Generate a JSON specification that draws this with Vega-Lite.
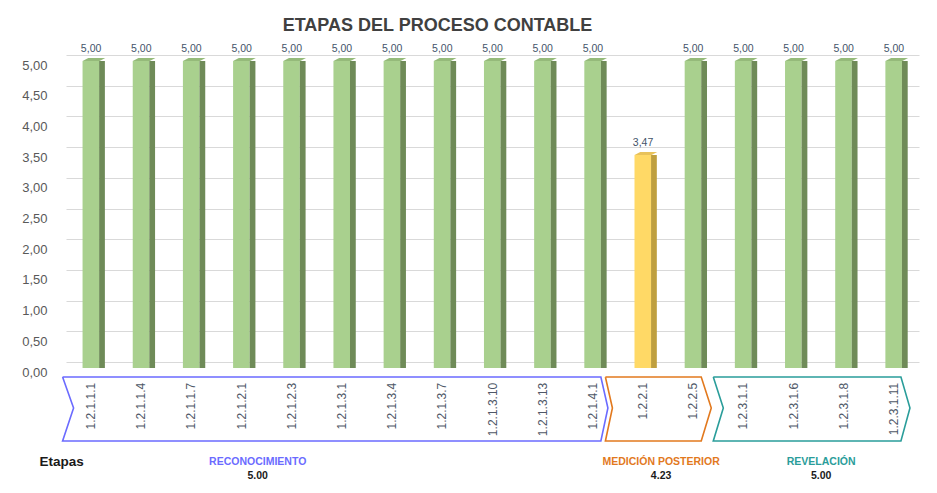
{
  "$schema": "https://vega.github.io/schema/vega-lite/v6.json",
  "width": 853,
  "height": 307,
  "autosize": "none",
  "padding": {"left": 66, "top": 61, "right": 18, "bottom": 125},
  "background": "white",
  "config": {
    "view": {"stroke": null},
    "font": "Liberation Sans",
    "axisY": {
      "tickCount": 10,
      "labelExpr": "replace(format(datum.value, '.2f'), '.', ',')",
      "labelOverlap": false,
      "domain": false, "ticks": false,
      "labelPadding": 19, "labelFontSize": 13, "labelColor": "#595959",
      "grid": true, "gridColor": "#D9D9D9", "gridWidth": 1,
      "tickOffset": -6, "labelOffset": 10
    }
  },
  "title": {"text": "ETAPAS DEL PROCESO CONTABLE", "fontSize": 18, "fontWeight": "bold", "color": "#404040", "dx": -55, "offset": 9, "anchor": "middle"},
  "datasets": {
    "barras": [
      {"cat": "1.2.1.1.1", "v": 5.00, "grupo": "RECONOCIMIENTO"},
      {"cat": "1.2.1.1.4", "v": 5.00, "grupo": "RECONOCIMIENTO"},
      {"cat": "1.2.1.1.7", "v": 5.00, "grupo": "RECONOCIMIENTO"},
      {"cat": "1.2.1.2.1", "v": 5.00, "grupo": "RECONOCIMIENTO"},
      {"cat": "1.2.1.2.3", "v": 5.00, "grupo": "RECONOCIMIENTO"},
      {"cat": "1.2.1.3.1", "v": 5.00, "grupo": "RECONOCIMIENTO"},
      {"cat": "1.2.1.3.4", "v": 5.00, "grupo": "RECONOCIMIENTO"},
      {"cat": "1.2.1.3.7", "v": 5.00, "grupo": "RECONOCIMIENTO"},
      {"cat": "1.2.1.3.10", "v": 5.00, "grupo": "RECONOCIMIENTO"},
      {"cat": "1.2.1.3.13", "v": 5.00, "grupo": "RECONOCIMIENTO"},
      {"cat": "1.2.1.4.1", "v": 5.00, "grupo": "RECONOCIMIENTO"},
      {"cat": "1.2.2.1", "v": 3.47, "grupo": "MEDICIÓN POSTERIOR"},
      {"cat": "1.2.2.5", "v": 5.00, "grupo": "MEDICIÓN POSTERIOR"},
      {"cat": "1.2.3.1.1", "v": 5.00, "grupo": "REVELACIÓN"},
      {"cat": "1.2.3.1.6", "v": 5.00, "grupo": "REVELACIÓN"},
      {"cat": "1.2.3.1.8", "v": 5.00, "grupo": "REVELACIÓN"},
      {"cat": "1.2.3.1.11", "v": 5.00, "grupo": "REVELACIÓN"}
    ],
    "chevrones": [
      {"grupo": "RECONOCIMIENTO", "o": 0, "px": -0.568, "py": -0.147},
      {"grupo": "RECONOCIMIENTO", "o": 1, "px": 10.16, "py": -0.147},
      {"grupo": "RECONOCIMIENTO", "o": 2, "px": 10.30, "py": -0.651},
      {"grupo": "RECONOCIMIENTO", "o": 3, "px": 10.16, "py": -1.189},
      {"grupo": "RECONOCIMIENTO", "o": 4, "px": -0.568, "py": -1.189},
      {"grupo": "RECONOCIMIENTO", "o": 5, "px": -0.349, "py": -0.651},
      {"grupo": "RECONOCIMIENTO", "o": 6, "px": -0.568, "py": -0.147},
      {"grupo": "MEDICIÓN POSTERIOR", "o": 0, "px": 10.25, "py": -0.147},
      {"grupo": "MEDICIÓN POSTERIOR", "o": 1, "px": 12.16, "py": -0.147},
      {"grupo": "MEDICIÓN POSTERIOR", "o": 2, "px": 12.36, "py": -0.651},
      {"grupo": "MEDICIÓN POSTERIOR", "o": 3, "px": 12.16, "py": -1.189},
      {"grupo": "MEDICIÓN POSTERIOR", "o": 4, "px": 10.25, "py": -1.189},
      {"grupo": "MEDICIÓN POSTERIOR", "o": 5, "px": 10.39, "py": -0.651},
      {"grupo": "MEDICIÓN POSTERIOR", "o": 6, "px": 10.25, "py": -0.147},
      {"grupo": "REVELACIÓN", "o": 0, "px": 12.40, "py": -0.147},
      {"grupo": "REVELACIÓN", "o": 1, "px": 16.14, "py": -0.147},
      {"grupo": "REVELACIÓN", "o": 2, "px": 16.32, "py": -0.651},
      {"grupo": "REVELACIÓN", "o": 3, "px": 16.14, "py": -1.189},
      {"grupo": "REVELACIÓN", "o": 4, "px": 12.40, "py": -1.189},
      {"grupo": "REVELACIÓN", "o": 5, "px": 12.60, "py": -0.651},
      {"grupo": "REVELACIÓN", "o": 6, "px": 12.40, "py": -0.147}
    ],
    "grupos": [
      {"grupo": "RECONOCIMIENTO", "centro": 3.32, "prom": 5.00},
      {"grupo": "MEDICIÓN POSTERIOR", "centro": 11.36, "prom": 4.23},
      {"grupo": "REVELACIÓN", "centro": 14.55, "prom": 5.00}
    ],
    "etiqueta": [{"t": "Etapas", "pos": -1.03}]
  },
  "layer": [
    {
      "data": {"name": "barras"},
      "mark": {"type": "bar"},
      "encoding": {
        "x": {"field": "cat", "type": "nominal", "sort": null, "bandPosition": 0.33, "scale": {"paddingInner": 0, "paddingOuter": 0}, "axis": null},
        "x2": {"field": "cat", "bandPosition": 0.66},
        "y": {"field": "v", "type": "quantitative", "scale": {"domain": [0, 5], "nice": false}, "axis": {"title": null}},
        "y2": {"datum": 0},
        "color": {"condition": {"test": "datum.v < 4", "value": "#FFD966"}, "value": "#A9D08E"}
      }
    },
    {
      "data": {"name": "barras"},
      "mark": {"type": "bar"},
      "encoding": {
        "x": {"field": "cat", "type": "nominal", "sort": null, "bandPosition": 0.66, "scale": {"paddingInner": 0, "paddingOuter": 0}, "axis": null},
        "x2": {"field": "cat", "bandPosition": 0.775},
        "y": {"field": "v", "type": "quantitative", "axis": {"title": null}},
        "y2": {"datum": 0},
        "color": {"condition": {"test": "datum.v < 4", "value": "#BF9F3F"}, "value": "#6F8B58"}
      }
    },
    {
      "data": {"name": "barras"},
      "mark": {"type": "point", "filled": true, "opacity": 1, "strokeWidth": 0, "size": 289, "shape": "M-1,0L1,0L1.67,-0.36L-0.33,-0.36Z"},
      "encoding": {
        "x": {"field": "cat", "type": "nominal", "sort": null, "bandPosition": 0.495, "scale": {"paddingInner": 0, "paddingOuter": 0}, "axis": null},
        "y": {"field": "v", "type": "quantitative", "axis": {"title": null}},
        "color": {"condition": {"test": "datum.v < 4", "value": "#E8C25A"}, "value": "#95BA7A"}
      }
    },
    {
      "data": {"name": "barras"},
      "transform": [{"calculate": "replace(format(datum.v, '.2f'), '.', ',')", "as": "lbl"}],
      "mark": {"type": "text", "baseline": "bottom", "dy": -7, "fontSize": 10.5, "color": "#44546A"},
      "encoding": {
        "x": {"field": "cat", "type": "nominal", "sort": null, "bandPosition": 0.53, "scale": {"paddingInner": 0, "paddingOuter": 0}, "axis": null},
        "y": {"field": "v", "type": "quantitative", "axis": {"title": null}},
        "text": {"field": "lbl"}
      }
    },
    {
      "data": {"name": "barras"},
      "mark": {"type": "text", "angle": 270, "align": "right", "baseline": "middle", "fontSize": 12, "color": "#4F5868"},
      "encoding": {
        "x": {"field": "cat", "type": "nominal", "sort": null, "bandPosition": 0.45, "scale": {"paddingInner": 0, "paddingOuter": 0}, "axis": null},
        "y": {"datum": -0.24},
        "text": {"field": "cat"}
      }
    },
    {
      "data": {"name": "chevrones"},
      "mark": {"type": "line", "strokeWidth": 1.6},
      "encoding": {
        "x": {"field": "px", "type": "quantitative", "scale": {"domain": [-0.5, 16.5], "nice": false, "zero": false}, "axis": null},
        "y": {"field": "py", "type": "quantitative", "axis": {"title": null}},
        "order": {"field": "o"},
        "detail": {"field": "grupo"},
        "color": {"field": "grupo", "type": "nominal", "scale": {"domain": ["RECONOCIMIENTO", "MEDICIÓN POSTERIOR", "REVELACIÓN"], "range": ["#6B6BFF", "#E2791E", "#2A9D9A"]}, "legend": null}
      }
    },
    {
      "data": {"name": "grupos"},
      "mark": {"type": "text", "fontSize": 10.5, "fontWeight": "bold", "baseline": "middle"},
      "encoding": {
        "x": {"field": "centro", "type": "quantitative", "scale": {"domain": [-0.5, 16.5], "nice": false, "zero": false}, "axis": null},
        "y": {"datum": -1.53},
        "text": {"field": "grupo"},
        "color": {"field": "grupo", "type": "nominal", "legend": null}
      }
    },
    {
      "data": {"name": "grupos"},
      "mark": {"type": "text", "fontSize": 10.5, "fontWeight": "bold", "baseline": "middle", "color": "#1a1a1a"},
      "encoding": {
        "x": {"field": "centro", "type": "quantitative", "scale": {"domain": [-0.5, 16.5], "nice": false, "zero": false}, "axis": null},
        "y": {"datum": -1.76},
        "text": {"field": "prom", "format": ".2f"}
      }
    },
    {
      "data": {"name": "etiqueta"},
      "mark": {"type": "text", "fontSize": 13.5, "fontWeight": "bold", "baseline": "middle", "align": "left", "color": "#1a1a1a"},
      "encoding": {
        "x": {"field": "pos", "type": "quantitative", "scale": {"domain": [-0.5, 16.5], "nice": false, "zero": false}, "axis": null},
        "y": {"datum": -1.53},
        "text": {"field": "t"}
      }
    }
  ],
  "resolve": {"scale": {"x": "independent"}}
}
